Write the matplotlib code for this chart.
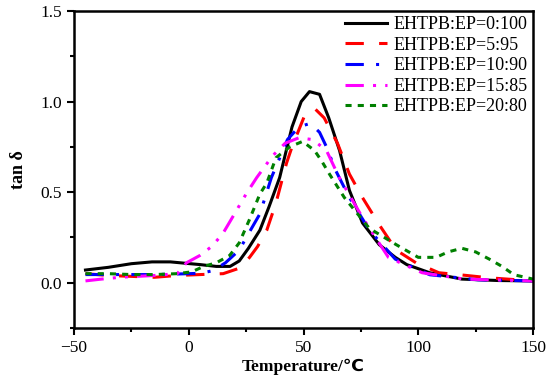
import numpy as np
import matplotlib.pyplot as plt
from matplotlib.ticker import MultipleLocator

plt.rcParams['font.family'] = ['Liberation Serif', 'DejaVu Sans']
plt.rcParams['mathtext.fontset'] = 'stix'

# tan delta curves
t_0_100 = [-45, -35, -25, -16, -8, -2, 5, 12, 18, 22, 26, 31, 35, 39.6, 45, 49, 52.6, 57, 61, 65.7, 70, 75.7, 83, 90, 95, 105, 119, 135, 150]
y_0_100 = [0.07, 0.085, 0.105, 0.115, 0.115, 0.108, 0.1, 0.09, 0.09, 0.12, 0.19, 0.29, 0.42, 0.58, 0.86, 1.0, 1.055, 1.04, 0.91, 0.73, 0.51, 0.33, 0.21, 0.14, 0.1, 0.055, 0.02, 0.012, 0.01]

t_5_95 = [-45, -35, -25, -15, -5, 5, 15, 22, 26.5, 30, 34, 38, 42.6, 45, 50.4, 55, 59, 64.8, 70, 75.7, 83, 90.4, 99, 109, 118, 131, 150]
y_5_95 = [0.05, 0.04, 0.035, 0.03, 0.04, 0.045, 0.05, 0.08, 0.14, 0.2, 0.29, 0.44, 0.66, 0.75, 0.92, 0.96, 0.91, 0.77, 0.6, 0.47, 0.32, 0.18, 0.11, 0.055, 0.044, 0.027, 0.01]

t_10_90 = [-45, -35, -25, -15, -5, 5, 10.4, 16, 22, 26, 31, 36, 43, 48, 53, 57, 60, 64, 70, 78.7, 90, 105, 126, 150]
y_10_90 = [0.045, 0.045, 0.045, 0.045, 0.048, 0.052, 0.066, 0.11, 0.18, 0.27, 0.38, 0.58, 0.79, 0.86, 0.88, 0.83, 0.75, 0.62, 0.47, 0.29, 0.13, 0.044, 0.016, 0.01]

t_15_85 = [-45, -38, -30, -15, -5, -1, 4.8, 10, 14.8, 19, 25, 29.6, 36.5, 42, 48, 54, 60, 65.6, 75.7, 87, 101.7, 120, 150]
y_15_85 = [0.01, 0.02, 0.03, 0.04, 0.05, 0.11, 0.15, 0.2, 0.27, 0.36, 0.49, 0.58, 0.7, 0.77, 0.8, 0.79, 0.73, 0.58, 0.36, 0.14, 0.055, 0.02, 0.01]

t_20_80 = [-45, -35, -25, -15, -5, 1.3, 6.5, 12, 17.8, 22, 26.5, 31, 34, 38, 44, 49.6, 54.8, 58, 61.3, 67.8, 78.7, 90.4, 100, 107.8, 113, 119, 125, 131, 136.5, 141.7, 150]
y_20_80 = [0.05, 0.05, 0.045, 0.045, 0.05, 0.06, 0.09, 0.11, 0.15, 0.22, 0.35, 0.49, 0.55, 0.69, 0.75, 0.78, 0.73, 0.67, 0.6, 0.47, 0.3, 0.21, 0.14, 0.14, 0.17, 0.19, 0.17, 0.13, 0.09, 0.044, 0.02]

labels = ['EHTPB:EP=0:100', 'EHTPB:EP=5:95', 'EHTPB:EP=10:90', 'EHTPB:EP=15:85', 'EHTPB:EP=20:80']
colors = ['black', 'red', 'blue', 'magenta', 'green']
dashes = [None, (6, 5), (6, 4, 1, 4), (6, 3, 1, 3, 1, 3), (2, 2)]
xs = [t_0_100, t_5_95, t_10_90, t_15_85, t_20_80]
ys = [y_0_100, y_5_95, y_10_90, y_15_85, y_20_80]

fig = plt.figure(figsize=(5.5, 3.83), dpi=100)
ax = fig.add_axes([74/550, 1 - 328/383, (533-74)/550, (328-11)/383])

for x, y, lab, c, d in zip(xs, ys, labels, colors, dashes):
    line, = ax.plot(x, y, color=c, linewidth=2.2, label=lab)
    if d is not None:
        line.set_dashes(d)

ax.set_xlim(-50, 150)
ax.set_ylim(-0.25, 1.5)
ax.xaxis.set_major_locator(MultipleLocator(50))
ax.xaxis.set_minor_locator(MultipleLocator(25))
ax.yaxis.set_major_locator(MultipleLocator(0.5))
ax.yaxis.set_minor_locator(MultipleLocator(0.25))
ax.tick_params(which='major', direction='out', length=5, width=1.5, labelsize=12.5)
ax.tick_params(which='minor', direction='out', length=3, width=1.5)
for s in ax.spines.values():
    s.set_linewidth(1.8)

ax.set_xlabel('Temperature/℃', fontsize=12.5, fontweight='bold', labelpad=2)
ax.set_ylabel(r'tan δ', fontsize=13, fontweight='bold', labelpad=10)

ax.legend(loc='upper right', bbox_to_anchor=(1.005, 1.007), frameon=False, fontsize=13,
          handlelength=2.3, labelspacing=0.2, borderaxespad=0.0, handletextpad=0.4)

plt.savefig('out.png', dpi=100)
